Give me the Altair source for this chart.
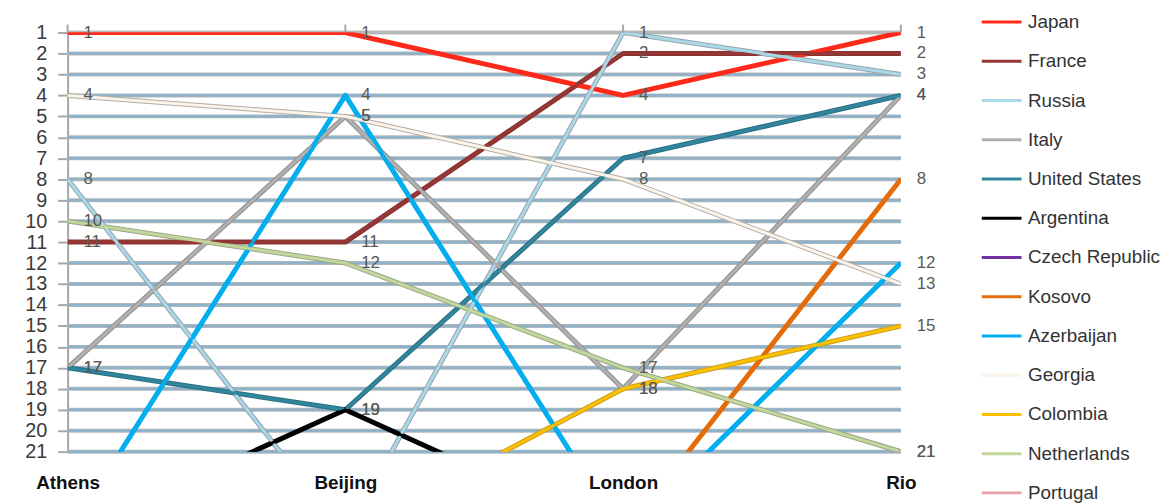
import altair as alt
import pandas as pd

games = ["Athens", "Beijing", "London", "Rio"]
countries = ["Japan", "France", "Russia", "Italy", "United States", "Argentina",
             "Czech Republic", "Kosovo", "Azerbaijan", "Georgia", "Colombia",
             "Netherlands", "Portugal"]

# rank at Athens, Beijing, London, Rio (25 = outside the shown ranks)
japan = [1, 1, 4, 1]
france = [11, 11, 2, 2]
russia = [8, 25, 1, 3]
italy = [17, 5, 18, 4]
united_states = [17, 19, 7, 4]
argentina = [25, 19, 25, 25]
czech_republic = [25, 25, 25, 25]
kosovo = [25, 25, 25, 8]
azerbaijan = [25, 4, 25, 12]
georgia = [4, 5, 8, 13]
colombia = [25, 25, 18, 15]
netherlands = [10, 12, 17, 21]
portugal = [25, 25, 25, 21]

series = [japan, france, russia, italy, united_states, argentina, czech_republic,
          kosovo, azerbaijan, georgia, colombia, netherlands, portugal]

colors = ["#ff2a1a", "#953735", "#a9d8e8", "#b0b0b0", "#31859c", "#000000",
          "#7030a0", "#e46c0a", "#00b0f0", "#faf4ea", "#ffc000", "#c3d69b", "#e6a0a8"]
outlines = ["#ff2a1a", "#8a3230", "#98a4aa", "#909090", "#2a7082", "#000000",
            "#7030a0", "#e46c0a", "#00a8e8", "#b4aca4", "#c8a020", "#98a88a", "#c08088"]

rank_ticks = list(range(1, 22))

rows = []
for ci, (c, vals) in enumerate(zip(countries, series)):
    for gi, (g, v) in enumerate(zip(games, vals)):
        rows.append({"country": c, "game": g, "rank": v, "order": ci, "gi": gi})
df = pd.DataFrame(rows)
lab = df[df["rank"] <= 21]

grid_df = pd.DataFrame({"r": rank_ticks})
tick_df = pd.DataFrame({"game": games})

W, H = 839, 422
font = "Liberation Sans"

yscale = alt.Scale(domain=[21, 1], nice=False, zero=False)
xscale = alt.Scale(type="point", padding=0, domain=games)

yaxis = alt.Axis(values=rank_ticks, grid=False, labelFontSize=20, labelFont=font,
                 labelColor="#3a3a3a", tickColor="#a6a6a6", tickWidth=2, tickSize=10,
                 domainColor="#a6a6a6", domainWidth=2, labelPadding=11,
                 labelOverlap=False, title=None, format="d", labelBaseline="middle")
xaxis = alt.Axis(title=None, labelFont=font, labelFontSize=19, labelFontWeight="bold",
                 labelColor="#111111", ticks=False, domain=False, labelPadding=22,
                 labelAngle=0, labelAlign="center", labelFlush=False, grid=False)

X = alt.X("game:N", scale=xscale, sort=games, axis=xaxis)

grid_grey = alt.Chart(grid_df).mark_rule(color="#b8b8b8", strokeWidth=4).encode(
    y=alt.Y("r:Q", scale=yscale, axis=yaxis),
)
grid_blue = alt.Chart(grid_df[grid_df["r"] > 1]).mark_rule(color="#8db2c9", strokeWidth=2.6).encode(
    y=alt.Y("r:Q", scale=yscale, axis=yaxis),
)

top_ticks = alt.Chart(tick_df).mark_rule(color="#a6a6a6", strokeWidth=2).encode(
    x=X,
    y=alt.value(-8), y2=alt.value(0),
)

outline = alt.Chart(df).mark_line(strokeWidth=5, clip=True, strokeJoin="round").encode(
    x=X,
    y=alt.Y("rank:Q", scale=yscale, axis=yaxis),
    detail="country:N",
    color=alt.Color("country:N", scale=alt.Scale(domain=countries, range=outlines), legend=None),
    order="gi:Q",
)

lines = alt.Chart(df).mark_line(strokeWidth=3, clip=True, strokeJoin="round").encode(
    x=X,
    y=alt.Y("rank:Q", scale=yscale, axis=yaxis),
    color=alt.Color("country:N", scale=alt.Scale(domain=countries, range=colors),
                    sort=countries,
                    legend=alt.Legend(title=None, orient="none", legendX=919, legendY=-32,
                                      symbolType="stroke", symbolSize=1600, symbolStrokeWidth=3,
                                      labelFont=font, labelFontSize=19, labelColor="#333333",
                                      labelOffset=5, rowPadding=7.5, padding=0, labelLimit=300)),
    order="gi:Q",
)

labels = alt.Chart(lab).mark_text(align="left", baseline="middle", dx=16, fontSize=17,
                                  font=font, color="#595959").encode(
    x=X,
    y=alt.Y("rank:Q", scale=yscale, axis=yaxis),
    text="rank:Q",
)

chart = alt.layer(grid_grey, grid_blue, top_ticks, outline, lines, labels).resolve_scale(
    color="independent"
).properties(
    width=W, height=H,
    autosize=alt.AutoSizeParams(type="none"),
    padding={"left": 60, "top": 23, "right": 269, "bottom": 51},
).configure_view(stroke=None)

chart.save("out.html", embed_options={"renderer": "svg", "actions": False})
